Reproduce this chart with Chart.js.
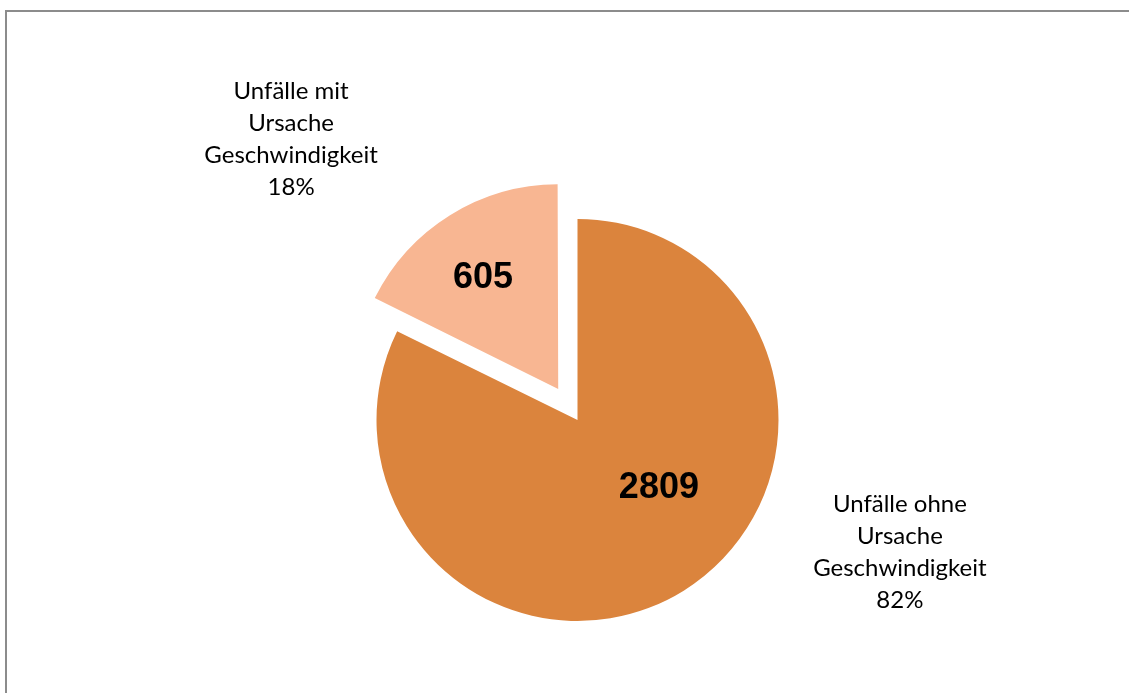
<!DOCTYPE html>
<html lang="de">
<head>
<meta charset="utf-8">
<title>Unfälle nach Ursache Geschwindigkeit</title>
<script src="https://cdn.jsdelivr.net/npm/chart.js@4.4.1/dist/chart.umd.min.js"></script>
<style>
  html, body { margin: 0; padding: 0; background: #ffffff; overflow: hidden; }
  #wrap { position: relative; width: 1129px; height: 693px; }
</style>
</head>
<body>
<div id="wrap"><canvas id="chart" width="1129" height="693"></canvas></div>
<script>
// Accident counts, split by whether speed was the cause
const categories = [
  ['Unfälle ohne', 'Ursache', 'Geschwindigkeit'],
  ['Unfälle mit', 'Ursache', 'Geschwindigkeit']
];
const counts = [2809, 605];
const sliceColors = ['#DB843D', '#F8B692'];
// Chart.js moves an arc by roughly a quarter of its offset value
const explode = [0, 146];

// Label placement in units of the pie radius, relative to the pie centre
const valueLabelPos = [[0.405, 0.338], [-0.470, -0.705]];
const nameLabelPos = [[1.604, 0.657], [-1.425, -1.398]];

const total = counts.reduce((a, b) => a + b, 0);

// Grey frame line along the top and left edge
const framePlugin = {
  id: 'frame',
  beforeDraw(chart) {
    const ctx = chart.ctx;
    ctx.save();
    ctx.strokeStyle = '#8c8c8c';
    ctx.lineWidth = 2;
    ctx.beginPath();
    ctx.moveTo(6, chart.height);
    ctx.lineTo(6, 11);
    ctx.lineTo(chart.width, 11);
    ctx.stroke();
    ctx.restore();
  }
};

// Values inside the slices and category names with percentages outside
const labelPlugin = {
  id: 'sliceLabels',
  afterDatasetsDraw(chart) {
    const ctx = chart.ctx;
    const meta = chart.getDatasetMeta(0);
    ctx.save();
    ctx.textAlign = 'center';
    ctx.textBaseline = 'middle';
    meta.data.forEach((arc, i) => {
      const r = arc.outerRadius;
      const cx = arc.x, cy = arc.y;
      // value
      ctx.fillStyle = '#000000';
      ctx.font = 'bold 36px "Liberation Sans", Arial, sans-serif';
      ctx.fillText(String(counts[i]),
        cx + valueLabelPos[i][0] * r, cy + valueLabelPos[i][1] * r);
      // category + percentage
      const lines = categories[i].concat([Math.round(counts[i] / total * 100) + '%']);
      ctx.font = '24px Lato, "Open Sans", sans-serif';
      const lh = 32;
      const lx = cx + nameLabelPos[i][0] * r;
      const ly = cy + nameLabelPos[i][1] * r - (lines.length - 1) * lh / 2;
      lines.forEach((t, k) => ctx.fillText(t, lx, ly + k * lh));
    });
    ctx.restore();
  }
};

new Chart(document.getElementById('chart'), {
  type: 'pie',
  data: {
    labels: categories.map(c => c.join(' ')),
    datasets: [{
      data: counts,
      backgroundColor: sliceColors,
      borderWidth: 0,
      offset: explode,
      hoverOffset: 0
    }]
  },
  options: {
    responsive: false,
    animation: false,
    radius: 201,
    layout: { padding: { left: 26, right: 0, top: 147, bottom: 0 } },
    plugins: {
      legend: { display: false },
      tooltip: { enabled: false }
    },
    events: []
  },
  plugins: [framePlugin, labelPlugin]
});
</script>
</body>
</html>
